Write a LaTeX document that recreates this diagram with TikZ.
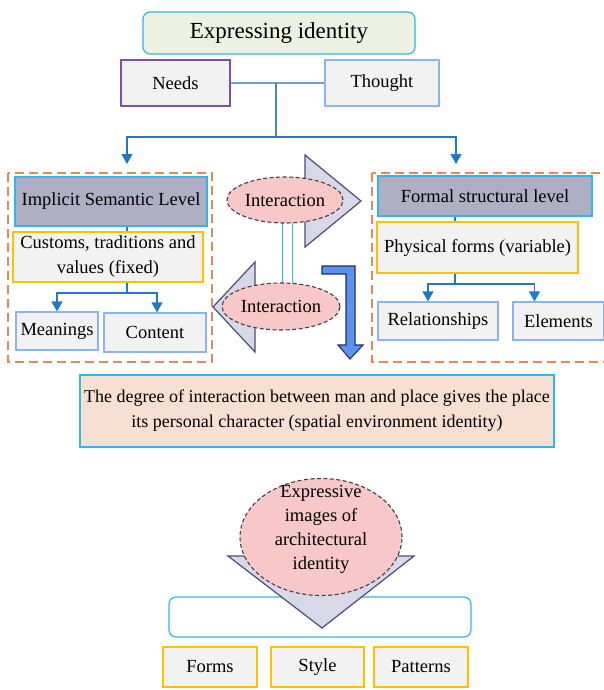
\documentclass[tikz,border=0pt]{standalone}
\usepackage{fontspec}
\setmainfont{Liberation Serif}
\usetikzlibrary{shapes.geometric,arrows.meta}

\definecolor{cyanline}{HTML}{33B5E8}
\definecolor{goldline}{HTML}{FFC000}
\definecolor{lblueline}{HTML}{8AB4F8}
\definecolor{purpleline}{HTML}{7E4FA8}
\definecolor{boxfill}{HTML}{F2F2F2}
\definecolor{headfill}{HTML}{AEAFC3}
\definecolor{titlefill}{HTML}{EDF1E1}
\definecolor{frameorange}{HTML}{E08A58}
\definecolor{flowblue}{HTML}{1F78C8}
\definecolor{linkblue}{HTML}{6F9FD8}
\definecolor{trunkteal}{HTML}{4E8C9C}
\definecolor{lavender}{HTML}{D8D8E8}
\definecolor{slate}{HTML}{4A4E78}
\definecolor{pinkfill}{HTML}{F8C8C8}
\definecolor{peach}{HTML}{F7DFD2}
\definecolor{bentblue}{HTML}{5A93F0}
\definecolor{bentedge}{HTML}{1F2F60}

\tikzset{
  box/.style={draw, line width=1.2pt, fill=boxfill, inner sep=0pt, align=center},
  goldbox/.style={box, draw=goldline},
  bluebox/.style={box, draw=lblueline},
  headbox/.style={box, draw=cyanline, fill=headfill},
  frame/.style={draw=frameorange, line width=1.2pt, dash pattern=on 9pt off 5pt},
  flow/.style={draw=flowblue, line width=1.3pt, -{Triangle[length=10pt,width=11pt]}},
  link/.style={draw=flowblue, line width=1.3pt},
  bigarrow/.style={draw=slate, fill=lavender, line width=1.2pt, line join=miter},
  bubble/.style={ellipse, draw=black!75, dash pattern=on 4pt off 2.5pt, line width=1.1pt, fill=pinkfill, inner sep=0pt, align=center},
  twin/.style={draw=cyanline, line width=1.1pt, double=white, double distance=9.5pt}
}

\begin{document}
\begin{tikzpicture}[x=1pt, y=-1pt, font=\fontsize{18.5}{22}\selectfont]
\useasboundingbox (0,0) rectangle (604,690);

% ---- top: title, needs and thought ----
\node[box, draw=cyanline, fill=titlefill, rounded corners=7pt, minimum width=272, minimum height=42,
      font=\fontsize{23}{26}\selectfont] (title) at (279,33) {Expressing identity};
\node[box, draw=purpleline, minimum width=109, minimum height=46] (needs) at (175.5,83) {Needs};
\node[bluebox, minimum width=114, minimum height=46] (thought) at (382,83) {Thought};

\coordinate (join) at (276,83);
\coordinate (fork) at (276,137);
\coordinate (tipL) at (127,164);
\coordinate (tipR) at (456,164);
\draw[draw=linkblue, line width=1.3pt] (needs.east) -- (thought.west);
\draw[draw=trunkteal, line width=1.3pt] (join) -- (fork);
\draw[flow] (fork) -| (tipL);
\draw[flow] (fork) -| (tipR);

% ---- dashed frames ----
\draw[frame] (8,173) rectangle (212,362);
\draw[frame] (372,173) rectangle (612,362);

% ---- left column ----
\coordinate (spineL) at (127,0);
\node[headbox, minimum width=192, minimum height=49] (impl) at (111,201.5) {Implicit Semantic Level};
\node[goldbox, minimum width=190, minimum height=50] (cust) at (108,257)
     {Customs, traditions and\\[3pt]values (fixed)};
\node[bluebox, minimum width=82, minimum height=38] (mean) at (57,331) {Meanings};
\node[bluebox, minimum width=102, minimum height=39] (cont) at (155,332.5) {Content};
\coordinate (splitL) at (127,293);
\draw[link] (impl.south -| spineL) -- (cust.north -| spineL);
\draw[link] (cust.south -| spineL) -- (splitL);
\draw[flow] (splitL) -| (mean.north);
\draw[flow] (splitL) -| ([xshift=2pt]cont.north);

% ---- right column ----
\coordinate (spineR) at (455,0);
\node[headbox, minimum width=214, minimum height=40] (formal) at (485,196) {Formal structural level};
\node[goldbox, minimum width=201, minimum height=51] (phys) at (477.5,247.5) {Physical forms (variable)};
\node[bluebox, minimum width=120, minimum height=38] (rel) at (438,321) {Relationships};
\node[bluebox, minimum width=91, minimum height=38] (elem) at (558.5,321) {Elements};
\coordinate (splitR) at (455,284);
\draw[link] (formal.south -| spineR) -- (phys.north -| spineR);
\draw[link] (phys.south -| spineR) -- (splitR);
\draw[flow] (splitR) -| ([xshift=-10pt]rel.north);
\draw[flow] (splitR) -| ([xshift=-24pt]elem.north);

% ---- central interaction arrows ----
\draw[bigarrow] (272,183) -- (305,183) -- (305,155) -- (361,201) -- (305,247) -- (305,219) -- (272,219) -- cycle;
\draw[bigarrow] (290,292) -- (255,292) -- (255,262) -- (213,307) -- (255,352) -- (255,322) -- (290,322) -- cycle;
\draw[draw=bentedge, fill=bentblue, line width=1.1pt, line join=miter]
  (322,266) -- (355,266) -- (355,345) -- (363,345) -- (350,359) -- (338,345) -- (346,345) -- (346,274) -- (322,274) -- cycle;

% twin link between the two interaction bubbles (ends hidden under them)
\draw[twin] (287.5,215) -- (287.5,292);

\node[bubble, minimum width=116, minimum height=46] (inter1) at (285,200) {Interaction};
\node[bubble, minimum width=118, minimum height=47] (inter2) at (281,306.5) {Interaction};

% ---- statement ----
\node[box, draw=cyanline, fill=peach, minimum width=474, minimum height=72,
      font=\fontsize{18}{22}\selectfont] (degree) at (317,411)
  {The degree of interaction between man and place gives the place\\[3pt]
   its personal character (spatial environment identity)};

% ---- bottom: expressive images ----
\node[box, draw=cyanline, fill=white, rounded corners=7pt, minimum width=302, minimum height=40] (band) at (320,617) {};
\draw[bigarrow] (228,556) -- (414,556) -- (322,628) -- cycle;
\node[bubble, minimum width=162, minimum height=117] (expr) at (321,537) {};
\node[align=center, inner sep=0pt, font=\fontsize{18.5}{24}\selectfont] (exprtext) at (321,529)
  {Expressive\\images of\\architectural\\identity};
\node[goldbox, minimum width=94, minimum height=40] (forms) at (210,667) {Forms};
\node[goldbox, minimum width=93, minimum height=40] (style) at (317.5,667) {Style};
\node[goldbox, minimum width=94, minimum height=40] (patt) at (421,667) {Patterns};
\end{tikzpicture}
\end{document}
